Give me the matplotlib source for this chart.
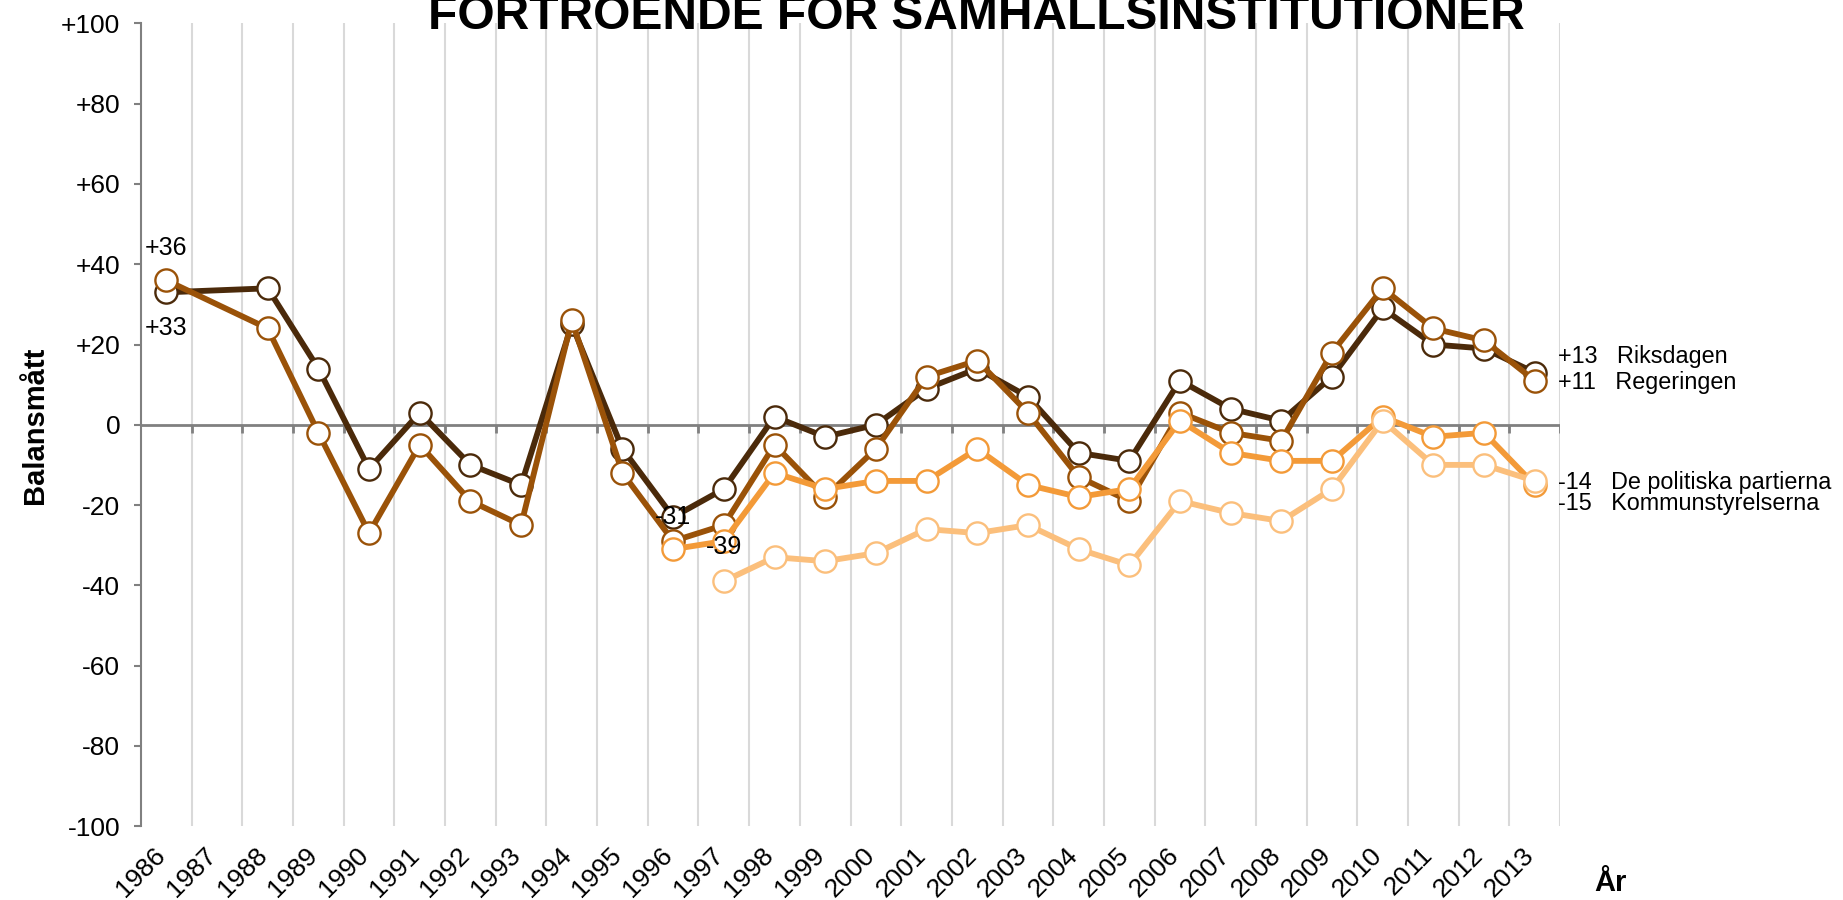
import numpy as np
import matplotlib.pyplot as plt

plt.rcParams['font.family'] = ['Liberation Sans', 'DejaVu Sans']

# Data (balansmått per år)
years = list(range(1986, 2014))
nan = np.nan
riksdagen = [33, nan, 34, 14, -11, 3, -10, -15, 25, -6, -23, -16, 2, -3, 0,
             9, 14, 7, -7, -9, 11, 4, 1, 12, 29, 20, 19, 13]
regeringen = [36, nan, 24, -2, -27, -5, -19, -25, 26, -12, -29, -25, -5, -18, -6,
              12, 16, 3, -13, -19, 3, -2, -4, 18, 34, 24, 21, 11]
kommunstyrelserna = [nan] * 10 + [-31, -29, -12, -16, -14, -14, -6, -15, -18, -16,
                                  1, -7, -9, -9, 2, -3, -2, -15]
partierna = [nan] * 11 + [-39, -33, -34, -32, -26, -27, -25, -31, -35, -19,
                          -22, -24, -16, 1, -10, -10, -14]

series = [
    ('Riksdagen', riksdagen, '#4B2A0A'),
    ('Regeringen', regeringen, '#9A5208'),
    ('Kommunstyrelserna', kommunstyrelserna, '#F39A38'),
    ('De politiska partierna', partierna, '#FBBF7C'),
]

fig = plt.figure(figsize=(18.43, 9), dpi=100)
ax = fig.add_axes([0.0765, 0.0822, 0.770, 0.8917])

n = len(years)
x = np.arange(n) + 0.5
ax.set_xlim(0, n)
ax.set_ylim(-100, 100)

# vertical gridlines between categories
for k in range(1, n + 1):
    ax.axvline(k, color='#D9D9D9', lw=1.5, zorder=0)

# zero line with small ticks
ax.axhline(0, color='#808080', lw=2, zorder=1)
ax.vlines(np.arange(1, n + 1), -2, 0, color='#808080', lw=2, zorder=1)

for name, vals, c in series:
    v = np.array(vals, dtype=float)
    m = ~np.isnan(v)
    ax.plot(x[m], v[m], '-o', color=c, lw=4.2, ms=16, mfc='white', mec=c,
            mew=1.7, clip_on=False, zorder=3)

# point labels
ax.text(x[0], riksdagen[0] + 11, '+36', fontsize=18, ha='center', va='center')
ax.text(x[0], riksdagen[0] - 9, '+33', fontsize=18, ha='center', va='center')
ax.text(x[10], kommunstyrelserna[10] + 8, '-31', fontsize=18, ha='center', va='center', zorder=4)
ax.text(x[11], partierna[11] + 8.5, '-39', fontsize=18, ha='center', va='center', zorder=4)

# end labels
ends = [
    ('+13   Riksdagen', riksdagen[-1] + 4),
    ('+11   Regeringen', regeringen[-1] - 0.5),
    ('-14   De politiska partierna', partierna[-1] - 0.5),
    ('-15   Kommunstyrelserna', kommunstyrelserna[-1] - 4.5),
]
for txt, yv in ends:
    ax.text(n - 0.05, yv, txt, fontsize=16.8, ha='left', va='center', clip_on=False)

# axes styling
for s in ['top', 'right', 'bottom']:
    ax.spines[s].set_visible(False)
ax.spines['left'].set_color('#808080')
ax.spines['left'].set_linewidth(1.5)

yt = np.arange(-100, 101, 20)
ax.set_yticks(yt)
ax.set_yticklabels([('+%d' % v) if v > 0 else '%d' % v for v in yt], fontsize=19)
ax.tick_params(axis='y', length=5, width=1.5, color='#808080', pad=10)

ax.set_xticks(x + 0.08)
ax.set_xticklabels([str(y) for y in years], rotation=45, ha='right', va='top', fontsize=19)
ax.tick_params(axis='x', length=0, pad=12)

fig.text(0.5296, 1 - 29 / 900, 'FÖRTROENDE FÖR SAMHÄLLSINSTITUTIONER',
         fontsize=34.5, fontweight='bold', ha='center', va='baseline')
fig.text(35 / 1843, 1 - 425 / 900, 'Balansmått', rotation=90, fontsize=21,
         fontweight='bold', ha='center', va='center')
fig.text(1610 / 1843, 1 - 891 / 900, 'År', fontsize=21, fontweight='bold',
         ha='center', va='baseline')

fig.savefig('out.png', dpi=100)
